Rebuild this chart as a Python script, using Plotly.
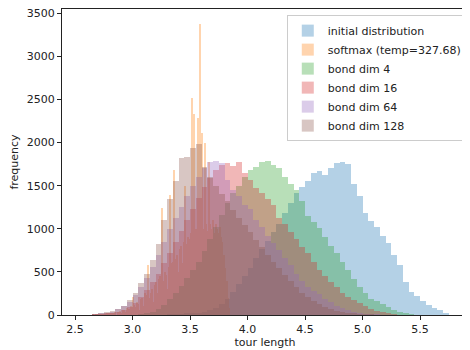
import plotly.graph_objects as go

# ---------------- data ----------------
series_names = ["initial distribution", "softmax (temp=327.68)", "bond dim 4",
                "bond dim 16", "bond dim 64", "bond dim 128"]
series_colors = ["#1f77b4", "#ff7f0e", "#2ca02c", "#d62728", "#9467bd", "#8c564b"]

# initial distribution: bins of width 0.05 starting at 3.30
initial_start, initial_width = 3.30, 0.05
initial_counts = [3, 5, 8, 12, 18, 25, 35, 55, 85, 130, 190, 270, 360, 450, 550, 660,
                  760, 860, 960, 1060, 1180, 1300, 1420, 1490, 1550, 1650, 1670, 1620,
                  1700, 1760, 1770, 1750, 1520, 1380, 1180, 1090, 1020, 920, 840, 700,
                  580, 380, 270, 215, 160, 120, 85, 55, 25]

# softmax: bins of width 0.012 starting at 2.65
softmax_start, softmax_width = 2.65, 0.012
softmax_counts = [2, 0, 3, 0, 5, 4, 0, 8, 6, 10,
                  12, 0, 15, 20, 8, 25, 30, 0, 35, 40,
                  45, 20, 60, 55, 30, 80, 70, 40, 110, 210,
                  120, 90, 150, 130, 60, 180, 200, 110, 250, 230,
                  580, 200, 260, 300, 150, 350, 380, 250, 420, 450,
                  1240, 400, 500, 460, 300, 560, 1390, 600, 620, 1680,
                  650, 700, 500, 760, 800, 600, 850, 1500, 820, 900,
                  880, 950, 2520, 2330, 900, 1000, 2280, 950, 3380, 2110,
                  1000, 1990, 1050, 980, 1770, 1050, 1000, 1100, 950, 1050,
                  1000, 950, 1020, 900, 850, 700, 550, 400, 200, 80]

# bond dim 4: width 0.05 starting at 3.05
bd4_start, bd4_width = 3.05, 0.05
bd4_counts = [5, 15, 35, 70, 120, 180, 260, 340, 430, 520, 620, 740, 880, 1020, 1160,
              1300, 1420, 1500, 1600, 1680, 1720, 1770, 1790, 1740, 1700, 1600, 1520,
              1450, 1320, 1150, 1080, 1010, 900, 800, 720, 620, 520, 420, 330, 250,
              190, 160, 125, 90, 60, 35, 18, 8]

# bond dim 16: width 0.05 starting at 2.65
bd16_start, bd16_width = 2.65, 0.05
bd16_counts = [3, 8, 15, 25, 40, 60, 90, 140, 210, 290, 380, 480, 600, 720, 850, 980,
               1100, 1230, 1360, 1480, 1590, 1680, 1740, 1760, 1730, 1780, 1650, 1560,
               1470, 1420, 1340, 1280, 1130, 1060, 960, 880, 790, 720, 620, 520, 450,
               380, 320, 260, 210, 170, 135, 100, 75, 50, 30, 15, 6]

# bond dim 64: width 0.05 starting at 2.65
bd64_start, bd64_width = 2.65, 0.05
bd64_counts = [8, 15, 25, 40, 65, 100, 150, 230, 320, 430, 560, 700, 850, 1000, 1120,
               1250, 1380, 1500, 1600, 1700, 1770, 1790, 1760, 1560, 1450, 1380, 1280,
               1230, 1100, 1020, 920, 840, 750, 660, 580, 480, 390, 330, 280, 240, 190,
               150, 110, 80, 55, 35, 20, 10, 5, 2]

# bond dim 128: width 0.05 starting at 2.65
bd128_start, bd128_width = 2.65, 0.05
bd128_counts = [10, 18, 30, 45, 70, 110, 170, 260, 370, 480, 640, 820, 1100, 1350, 1550,
                1820, 1830, 1940, 1980, 1720, 1600, 1500, 1400, 1320, 1220, 1130, 1040,
                960, 870, 790, 700, 620, 540, 460, 390, 320, 260, 210, 165, 125, 95, 70,
                50, 35, 22, 14, 8, 4, 2]

x_tick_vals = [2.5, 3.0, 3.5, 4.0, 4.5, 5.0, 5.5]
y_tick_vals = [0, 500, 1000, 1500, 2000, 2500, 3000, 3500]

series = [
    (initial_start, initial_width, initial_counts),
    (softmax_start, softmax_width, softmax_counts),
    (bd4_start, bd4_width, bd4_counts),
    (bd16_start, bd16_width, bd16_counts),
    (bd64_start, bd64_width, bd64_counts),
    (bd128_start, bd128_width, bd128_counts),
]

# ---------------- figure ----------------
fig = go.Figure()
for name, color, (start, width, counts) in zip(series_names, series_colors, series):
    centers = [start + width * (i + 0.5) for i in range(len(counts))]
    fig.add_trace(go.Bar(
        x=centers, y=counts, width=width, name=name,
        marker=dict(color=color, line=dict(width=0)),
        opacity=0.33,
    ))

font_family = "DejaVu Sans"
# the page body has an 8px margin, so the figure is sized to fit the window
fig.update_layout(
    width=462, height=342,
    barmode="overlay", bargap=0,
    paper_bgcolor="white", plot_bgcolor="white",
    margin=dict(l=54, r=2, t=1, b=35, autoexpand=False),
    font=dict(family=font_family, size=11, color="#222222"),
    showlegend=True,
    legend=dict(
        x=0.997, xanchor="right", y=0.98, yanchor="top",
        bgcolor="rgba(255,255,255,0.8)", bordercolor="#cccccc", borderwidth=1,
        font=dict(family=font_family, size=11, color="#222222"),
        tracegroupgap=0, itemsizing="constant",
    ),
)
fig.update_xaxes(
    range=[2.387, 5.917], showgrid=False, zeroline=False,
    showline=True, mirror=True, linecolor="#222222", linewidth=1,
    ticks="outside", ticklen=4, tickcolor="#222222",
    tickvals=x_tick_vals, ticktext=[f"{v:.1f}" for v in x_tick_vals],
    ticklabeloverflow="allow",
    title=dict(text="tour length", font=dict(size=11), standoff=3),
)
fig.update_yaxes(
    range=[0, 3549], showgrid=False, zeroline=False,
    showline=True, mirror=True, linecolor="#222222", linewidth=1,
    ticks="outside", ticklen=4, tickcolor="#222222",
    tickvals=y_tick_vals, ticktext=[str(v) for v in y_tick_vals],
    ticklabeloverflow="allow",
    title=dict(text="frequency", font=dict(size=11), standoff=10),
)

fig.write_html("out.html")
